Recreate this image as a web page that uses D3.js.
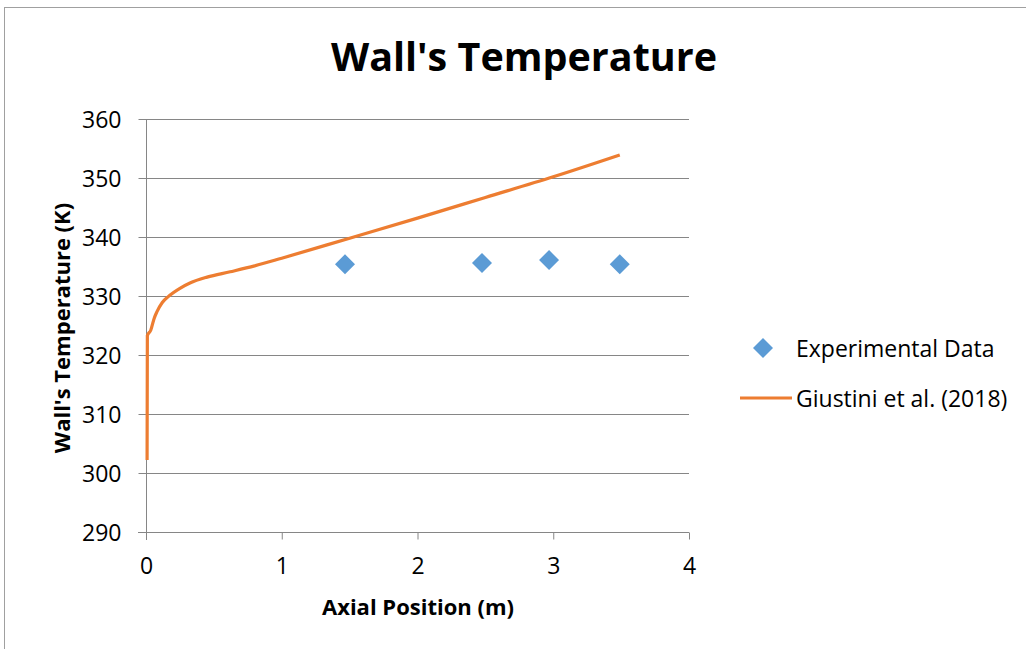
<!DOCTYPE html>
<html>
<head>
<meta charset="utf-8">
<script src="https://cdn.jsdelivr.net/npm/d3@7"></script>
<style>
  body { margin: 0; background: #fff; }
  text { font-family: "Open Sans", sans-serif; fill: #000; }
</style>
</head>
<body>
<div class="chart"></div>
<script>
// experimental points (axial position m, wall temperature K)
const expX = [1.466, 2.475, 2.969, 3.49];
const expT = [335.4, 335.6, 336.1, 335.4];

// model curve
const modelX = [0.008, 0.01, 0.035, 0.06, 0.08, 0.12, 0.164, 0.25, 0.324, 0.45, 0.62, 0.8, 1.0, 1.5, 2.0, 2.5, 3.0, 3.49];
const modelT = [302.2, 323.3, 324.2, 326.2, 327.3, 328.9, 329.9, 331.3, 332.2, 333.2, 334.1, 335.1, 336.4, 339.8, 343.2, 346.7, 350.2, 353.9];

const xTicks = [0, 1, 2, 3, 4];
const yTicks = [290, 300, 310, 320, 330, 340, 350, 360];
const seriesNames = ["Experimental Data", "Giustini et al. (2018)"];

const W = 1026, H = 649;
const plot = {left: 146, right: 689, top: 119, bottom: 532};

const svg = d3.select(".chart").append("svg")
    .attr("width", W)
    .attr("height", H);

// outer chart frame
svg.append("rect")
    .attr("x", 4.5).attr("y", 7.5)
    .attr("width", W).attr("height", H)
    .attr("fill", "none")
    .attr("stroke", "#a0a0a0")
    .attr("stroke-width", 1);

const x = d3.scaleLinear().domain([0, 4]).range([plot.left, plot.right]);
const y = d3.scaleLinear().domain([290, 360]).range([plot.bottom, plot.top]);

// gridlines
svg.append("g")
    .selectAll("line")
    .data(yTicks)
    .enter().append("line")
    .attr("x1", plot.left).attr("x2", plot.right)
    .attr("y1", d => Math.round(y(d)) + 0.5)
    .attr("y2", d => Math.round(y(d)) + 0.5)
    .attr("stroke", "#868686")
    .attr("stroke-width", 1);

const yAxis = d3.axisLeft(y).tickValues(yTicks).tickSize(8).tickSizeOuter(0).tickPadding(17);
const gy = svg.append("g")
    .attr("transform", "translate(" + (plot.left + 0.5) + ",0)")
    .call(yAxis);
gy.select(".domain").remove();
gy.append("line")
    .attr("y1", plot.top).attr("y2", plot.bottom + 8)
    .attr("stroke", "#868686");
gy.selectAll("line").attr("stroke", "#868686");
gy.selectAll("text").style("font-size", "23px").attr("dy", "0.35em");

const xAxis = d3.axisBottom(x).tickValues(xTicks).tickFormat(d3.format("d"))
    .tickSize(7).tickSizeOuter(0).tickPadding(18);
const gx = svg.append("g")
    .attr("transform", "translate(0," + (Math.round(y(290)) + 0.5) + ")")
    .call(xAxis);
gx.select(".domain").remove();
gx.append("line")
    .attr("x1", plot.left - 8).attr("x2", plot.right)
    .attr("stroke", "#868686");
gx.selectAll("line").attr("stroke", "#868686");
gx.selectAll("text").style("font-size", "23px");

// model line
const line = d3.line()
    .x((d, i) => x(modelX[i]))
    .y(d => y(d))
    .curve(d3.curveMonotoneX);

svg.append("path")
    .attr("d", line(modelT))
    .attr("fill", "none")
    .attr("stroke", "#ED7D31")
    .attr("stroke-width", 3.2)
    .attr("stroke-linejoin", "round");

// experimental diamonds
const diamond = d3.symbol().type(d3.symbolSquare).size(200);
svg.append("g")
    .selectAll("path")
    .data(expX)
    .enter().append("path")
    .attr("d", diamond)
    .attr("transform", (d, i) => "translate(" + x(d) + "," + y(expT[i]) + ") rotate(45)")
    .attr("fill", "#5B9BD5");

// titles
svg.append("text")
    .attr("x", 524).attr("y", 71)
    .attr("text-anchor", "middle")
    .style("font-size", "39.5px")
    .style("font-weight", "bold")
    .text("Wall's Temperature");

svg.append("text")
    .attr("x", 418).attr("y", 615)
    .attr("text-anchor", "middle")
    .style("font-size", "22px")
    .style("font-weight", "bold")
    .text("Axial Position (m)");

svg.append("text")
    .attr("transform", "translate(70,328) rotate(-90)")
    .attr("text-anchor", "middle")
    .style("font-size", "22px")
    .style("font-weight", "bold")
    .text("Wall's Temperature (K)");

// legend
const legend = svg.append("g");
legend.append("path")
    .attr("d", diamond)
    .attr("transform", "translate(763,348) rotate(45)")
    .attr("fill", "#5B9BD5");
legend.append("line")
    .attr("x1", 740).attr("x2", 792)
    .attr("y1", 398).attr("y2", 398)
    .attr("stroke", "#ED7D31")
    .attr("stroke-width", 3.2);
legend.selectAll("text")
    .data(seriesNames)
    .enter().append("text")
    .attr("x", 796)
    .attr("y", (d, i) => 357 + i * 50)
    .style("font-size", "23px")
    .text(d => d);
</script>
</body>
</html>
